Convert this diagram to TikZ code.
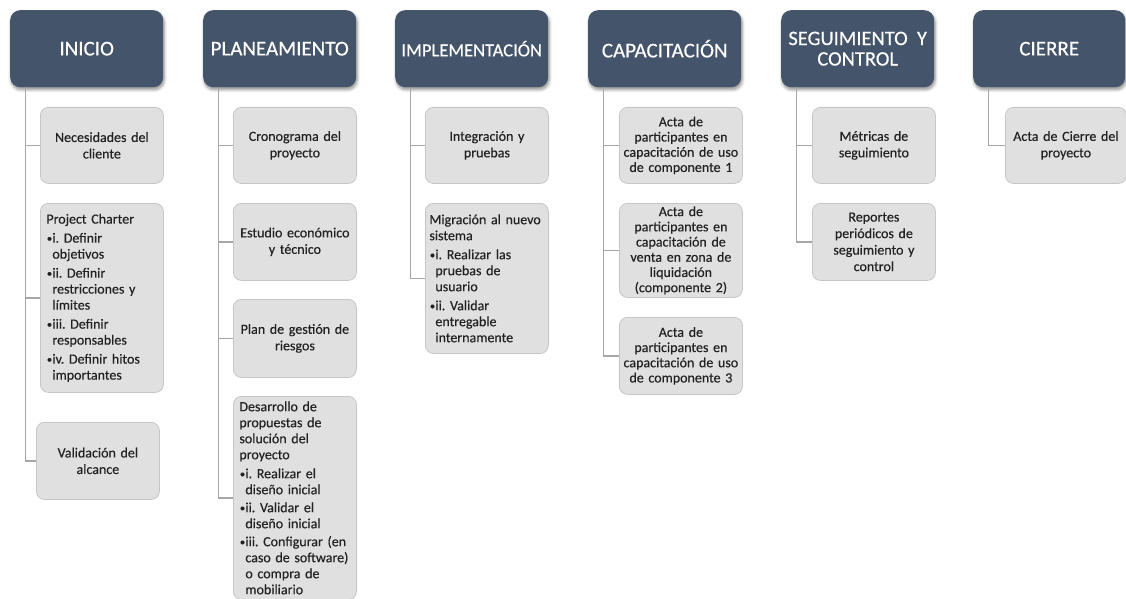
\documentclass[tikz,border=0pt]{standalone}
\usepackage{fontspec}
\setmainfont{Carlito}[FakeBold=0.35]
\usetikzlibrary{shadows.blur}

\definecolor{hdrfill}{HTML}{44546A}
\definecolor{boxfill}{HTML}{E0E0E0}
\definecolor{boxline}{HTML}{C6C6C6}
\definecolor{linkgray}{HTML}{A6A6A6}
\definecolor{txt}{HTML}{222222}

% bullet line and its continuation inside the list boxes
\newcommand{\bul}[1]{\hspace*{0.5pt}\makebox[5.5pt][l]{\raisebox{0.8pt}{\fontsize{10.5}{10.5}\selectfont\textbullet}}#1}
\newcommand{\cnt}[1]{\hspace*{6pt}#1}

\tikzset{
  phase/.style={anchor=north west, fill=hdrfill, rounded corners=10pt,
    minimum width=153pt, minimum height=77pt, text=white, align=center,
    inner sep=2pt, font=\fontsize{21}{21}\selectfont,
    blur shadow={shadow xshift=1pt, shadow yshift=-2.5pt,
      shadow blur radius=3pt, shadow blur steps=6, shadow opacity=45}},
  leafbox/.style={anchor=north west, draw=boxline, line width=0.8pt,
    fill=boxfill, rounded corners=8pt, minimum width=123pt,
    text width=117pt, inner xsep=3pt, inner ysep=0pt, align=center,
    text=txt, font=\fontsize{14}{16.5}\selectfont},
  actabox/.style={leafbox, font=\fontsize{14}{15.2}\selectfont},
  listbox/.style={leafbox, align=left, text width=111pt, inner xsep=6pt,
    font=\fontsize{14}{16}\selectfont},
  conn/.style={draw=linkgray, line width=1.3pt},
}

\begin{document}
\frenchspacing
\begin{tikzpicture}[x=1pt, y=-1pt]
\useasboundingbox (0,0) rectangle (1126,599);

% phase headers
\node[phase] (h1) at (10,10) {INICIO};
\node[phase] (h2) at (203,10) {PLANEAMIENTO};
\node[phase, font=\fontsize{18.5}{19}\selectfont] (h3) at (395,10) {IMPLEMENTACIÓN};
\node[phase] (h4) at (588,10) {CAPACITACIÓN};
\node[phase, font=\fontsize{20.5}{20.5}\selectfont] (h5) at (781,10) {SEGUIMIENTO\ \ Y\\CONTROL};
\node[phase, minimum width=152pt] (h6) at (973,10) {CIERRE};

% INICIO
\node[leafbox, minimum height=76pt] (c1a) at (40,107) {Necesidades del\\cliente};
\node[listbox, minimum height=189pt] (c1b) at (40,203)
  {Project Charter\\[3pt]
   \bul{i. Definir}\\ \cnt{objetivos}\\[3pt]
   \bul{ii. Definir}\\ \cnt{restricciones y}\\ \cnt{límites}\\[3pt]
   \bul{iii. Definir}\\ \cnt{responsables}\\[3pt]
   \bul{iv. Definir hitos}\\ \cnt{importantes}};
\node[leafbox, minimum height=77pt] (c1c) at (36,422) {Validación del\\alcance};

% PLANEAMIENTO
\node[leafbox, minimum height=76pt] (c2a) at (233,107) {Cronograma del\\proyecto};
\node[leafbox, minimum height=77pt] (c2b) at (233,203) {Estudio económico\\y técnico};
\node[leafbox, minimum height=78pt] (c2c) at (233,299) {Plan de gestión de\\riesgos};
\node[listbox, minimum height=203pt] (c2d) at (233,396)
  {Desarrollo de\\ propuestas de\\ solución del\\ proyecto\\[3pt]
   \bul{i. Realizar el}\\ \cnt{diseño inicial}\\[2pt]
   \bul{ii. Validar el}\\ \cnt{diseño inicial}\\[2pt]
   \bul{iii. Configurar (en}\\ \cnt{caso de software)}\\ \cnt{o compra de}\\ \cnt{mobiliario}};

% IMPLEMENTACION
\node[leafbox, minimum height=76pt] (c3a) at (425,107) {Integración y\\pruebas};
\node[listbox, inner xsep=4pt, text width=115pt, minimum height=150pt] (c3b) at (425,203)
  {Migración al nuevo\\ sistema\\[3pt]
   \bul{i. Realizar las}\\ \cnt{pruebas de}\\ \cnt{usuario}\\[3pt]
   \bul{ii. Validar}\\ \cnt{entregable}\\ \cnt{internamente}};

% CAPACITACION
\node[actabox, minimum height=76pt] (c4a) at (619,107)
  {Acta de\\participantes en\\capacitación de uso\\de componente 1};
\node[actabox, minimum height=94pt] (c4b) at (619,203)
  {Acta de\\participantes en\\capacitación de\\venta en zona de\\liquidación\\(componente 2)};
\node[actabox, minimum height=77pt] (c4c) at (619,317)
  {Acta de\\participantes en\\capacitación de uso\\de componente 3};

% SEGUIMIENTO Y CONTROL
\node[leafbox, minimum height=76pt] (c5a) at (812,107) {Métricas de\\seguimiento};
\node[leafbox, minimum height=77pt] (c5b) at (812,203)
  {Reportes\\periódicos de\\seguimiento y\\control};

% CIERRE
\node[leafbox, minimum width=121pt, text width=115pt, minimum height=76pt] (c6a) at (1005,107)
  {Acta de Cierre del\\proyecto};

% tree connectors
\foreach \h/\c in {h1/c1a, h1/c1b, h1/c1c,
                   h2/c2a, h2/c2b, h2/c2c, h2/c2d,
                   h3/c3a, h3/c3b,
                   h4/c4a, h4/c4b, h4/c4c,
                   h5/c5a, h5/c5b,
                   h6/c6a}
  \draw[conn] ([xshift=15.5pt]\h.south west) |- (\c.west);
\end{tikzpicture}
\end{document}
